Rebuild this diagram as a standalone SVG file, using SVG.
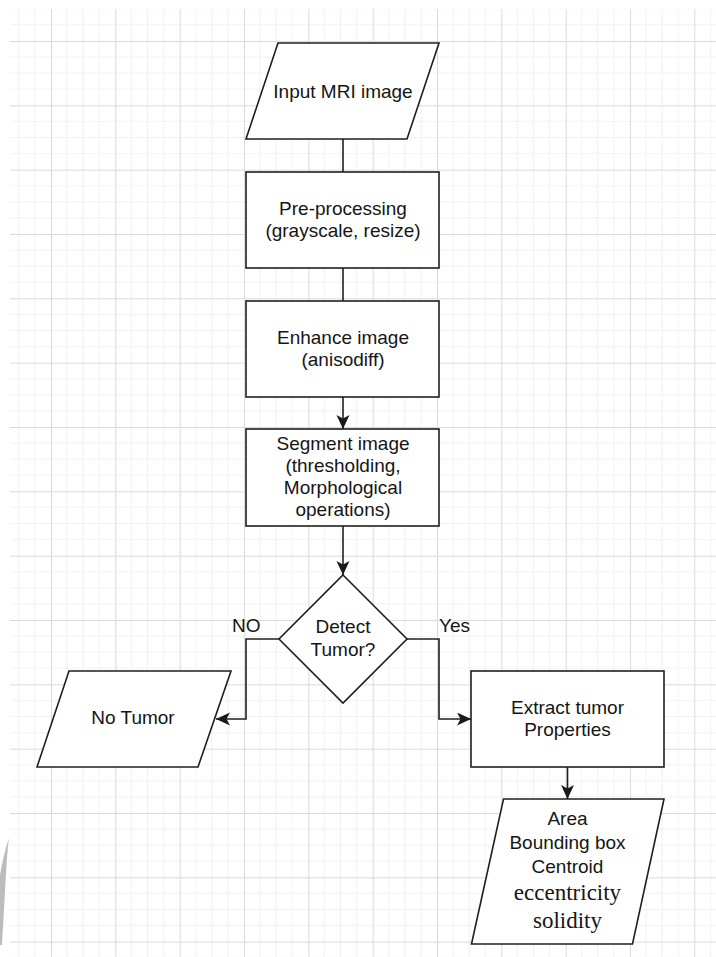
<svg xmlns="http://www.w3.org/2000/svg" width="716" height="957" viewBox="0 0 716 957">
  <defs>
    <pattern id="grid" patternUnits="userSpaceOnUse" x="51" y="41" width="64.333" height="64.333">
      <rect width="64.333" height="64.333" fill="#ffffff"/>
      <path d="M16.08,0 V64.333 M32.17,0 V64.333 M48.25,0 V64.333 M0,16.08 H64.333 M0,32.17 H64.333 M0,48.25 H64.333" stroke="#f1f1f1" stroke-width="1" fill="none"/>
      <path d="M0.5,0 V64.333 M0,0.5 H64.333" stroke="#dadada" stroke-width="1" fill="none"/>
    </pattern>
    <marker id="arrow" markerUnits="userSpaceOnUse" markerWidth="16" markerHeight="14" refX="14" refY="6.5" orient="auto">
      <path d="M0,0 L14,6.5 L0,13 L3.5,6.5 Z" fill="#1a1a1a"/>
    </marker>
    <style>
      .shape { fill: #ffffff; stroke: #1f1f1f; stroke-width: 1.6; }
      .conn { fill: none; stroke: #1f1f1f; stroke-width: 1.6; }
      .t { font-family: "Liberation Sans", Arial, sans-serif; font-size: 19px; fill: #151515; text-anchor: middle; }
      .lbl { font-family: "Liberation Sans", Arial, sans-serif; font-size: 19px; fill: #151515; }
      .s { font-family: "Liberation Serif", "Times New Roman", serif; font-size: 23px; fill: #151515; text-anchor: middle; }
    </style>
  </defs>

  <rect x="0" y="0" width="716" height="957" fill="#ffffff"/>
  <rect x="10" y="9" width="706" height="948" fill="url(#grid)"/>
  <path d="M9,838 C6,860 5,900 2,945 L0,945 L0,875 C2,862 5,850 9,838 Z" fill="#bcbcbc"/>

  <g id="connectors">
    <path class="conn" d="M343,139 V172"/>
    <path class="conn" d="M343,268 V301"/>
    <path class="conn" d="M343,397 V429" marker-end="url(#arrow)"/>
    <path class="conn" d="M343,526 V575" marker-end="url(#arrow)"/>
    <path class="conn" d="M279,639 H246 V719 H216" marker-end="url(#arrow)"/>
    <path class="conn" d="M407,639 H439 V719 H471" marker-end="url(#arrow)"/>
    <path class="conn" d="M567.5,767 V799" marker-end="url(#arrow)"/>
    <text class="lbl" x="232" y="632">NO</text>
    <text class="lbl" x="439" y="632">Yes</text>
  </g>

  <g id="input">
    <polygon class="shape" points="278,43 439,43 407,139 246,139"/>
    <text class="t" x="343" y="97.5">Input MRI image</text>
  </g>

  <g id="preprocess">
    <rect class="shape" x="246" y="172" width="193" height="96"/>
    <text class="t" x="343" y="215">Pre-processing</text>
    <text class="t" x="343" y="237">(grayscale, resize)</text>
  </g>

  <g id="enhance">
    <rect class="shape" x="246" y="301" width="193" height="96"/>
    <text class="t" x="343" y="343.5">Enhance image</text>
    <text class="t" x="343" y="366">(anisodiff)</text>
  </g>

  <g id="segment">
    <rect class="shape" x="246" y="429" width="193" height="97"/>
    <text class="t" x="343" y="449.5">Segment image</text>
    <text class="t" x="343" y="471.8">(thresholding,</text>
    <text class="t" x="343" y="494">Morphological</text>
    <text class="t" x="343" y="516.3">operations)</text>
  </g>

  <g id="detect">
    <polygon class="shape" points="343,575 407,639 343,703 279,639"/>
    <text class="t" x="343" y="632.5">Detect</text>
    <text class="t" x="343" y="655.5">Tumor?</text>
  </g>

  <g id="notumor">
    <polygon class="shape" points="69,671 231,671 198,767 37,767"/>
    <text class="t" x="133" y="724">No Tumor</text>
  </g>

  <g id="extract">
    <rect class="shape" x="471" y="671" width="193" height="96"/>
    <text class="t" x="567.5" y="713.5">Extract tumor</text>
    <text class="t" x="567.5" y="736">Properties</text>
  </g>

  <g id="properties">
    <polygon class="shape" points="503.5,799 664,799 632.5,944 471.5,944"/>
    <text class="t" x="567.5" y="825">Area</text>
    <text class="t" x="567.5" y="848.5">Bounding box</text>
    <text class="t" x="567.5" y="872.5">Centroid</text>
    <text class="s" x="567.5" y="900">eccentricity</text>
    <text class="s" x="567.5" y="928">solidity</text>
  </g>
</svg>
